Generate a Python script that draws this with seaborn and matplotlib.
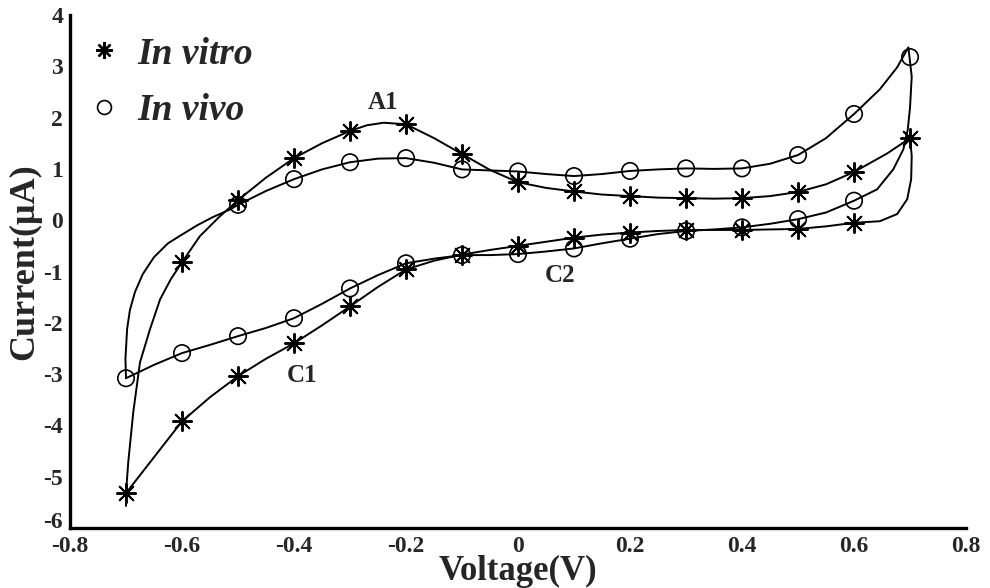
import matplotlib
matplotlib.use("Agg")
import matplotlib.pyplot as plt
from matplotlib.lines import Line2D
import seaborn as sns
import pandas as pd

# Cyclic voltammogram traces (voltage in V, current in uA), forward scan then reverse scan
vitro_trace_v = [-0.700, -0.700, -0.696, -0.687, -0.675, -0.657, -0.639, -0.620, -0.600, -0.568,
                 -0.532, -0.500, -0.450, -0.400, -0.350, -0.300, -0.270, -0.240, -0.200, -0.150,
                 -0.100, -0.050, 0.000, 0.050, 0.100, 0.150, 0.200, 0.250, 0.300, 0.350,
                 0.400, 0.450, 0.500, 0.550, 0.600, 0.659, 0.700,
                 0.703, 0.702, 0.695, 0.677, 0.646, 0.600, 0.550, 0.500, 0.450,
                 0.400, 0.350, 0.300, 0.250, 0.200, 0.150, 0.100, 0.050, 0.000, -0.050,
                 -0.100, -0.150, -0.200, -0.250, -0.300, -0.350, -0.400, -0.450, -0.500, -0.550,
                 -0.600, -0.650, -0.700]
vitro_trace_i = [-5.57, -5.32, -4.72, -3.74, -2.77, -2.12, -1.54, -1.15, -0.82, -0.31,
                 0.08, 0.39, 0.83, 1.21, 1.50, 1.74, 1.85, 1.90, 1.87, 1.60,
                 1.29, 0.98, 0.74, 0.63, 0.56, 0.50, 0.47, 0.44, 0.43, 0.42,
                 0.43, 0.47, 0.55, 0.70, 0.94, 1.30, 1.60,
                 1.25, 0.80, 0.41, 0.12, -0.02, -0.05, -0.12, -0.17, -0.18,
                 -0.19, -0.19, -0.19, -0.21, -0.24, -0.28, -0.34, -0.42, -0.50, -0.58,
                 -0.67, -0.79, -0.96, -1.30, -1.68, -2.05, -2.40, -2.70, -3.04, -3.45,
                 -3.92, -4.62, -5.32]

vivo_trace_v = [-0.700, -0.701, -0.698, -0.693, -0.684, -0.670, -0.650, -0.625, -0.600, -0.573,
                -0.545, -0.514, -0.500, -0.450, -0.400, -0.350, -0.300, -0.250, -0.200, -0.150,
                -0.100, -0.050, 0.000, 0.050, 0.100, 0.150, 0.200, 0.250, 0.300, 0.350,
                0.400, 0.450, 0.500, 0.550, 0.600, 0.646, 0.677, 0.697,
                0.703, 0.700, 0.696, 0.688, 0.670, 0.641, 0.600, 0.550, 0.500, 0.450,
                0.400, 0.350, 0.300, 0.250, 0.200, 0.150, 0.100, 0.050, 0.000, -0.050,
                -0.100, -0.150, -0.200, -0.250, -0.300, -0.350, -0.400, -0.450, -0.500, -0.550,
                -0.600, -0.650, -0.700]
vivo_trace_i = [-3.08, -2.70, -2.12, -1.75, -1.40, -1.05, -0.72, -0.45, -0.28, -0.10,
                0.06, 0.21, 0.30, 0.57, 0.80, 0.99, 1.13, 1.20, 1.21, 1.12,
                0.99, 0.97, 0.95, 0.90, 0.86, 0.90, 0.96, 0.99, 1.01, 1.00,
                1.01, 1.10, 1.27, 1.60, 2.07, 2.55, 2.98, 3.37,
                2.80, 2.20, 1.77, 1.38, 0.99, 0.60, 0.38, 0.15, 0.02, -0.07,
                -0.14, -0.18, -0.21, -0.27, -0.36, -0.45, -0.55, -0.61, -0.66, -0.68,
                -0.68, -0.75, -0.84, -1.07, -1.33, -1.63, -1.91, -2.10, -2.26, -2.43,
                -2.59, -2.82, -3.08]

# Marked sample points every 0.1 V
vitro_marker_v = [-0.6, -0.5, -0.4, -0.3, -0.2, -0.1, 0.0, 0.1, 0.2, 0.3, 0.4, 0.5, 0.6, 0.7,
                  0.6, 0.5, 0.4, 0.3, 0.2, 0.1, 0.0, -0.1, -0.2, -0.3, -0.4, -0.5, -0.6, -0.7]
vitro_marker_i = [-0.82, 0.39, 1.21, 1.74, 1.87, 1.29, 0.74, 0.56, 0.47, 0.43, 0.43, 0.55, 0.94, 1.60,
                  -0.05, -0.17, -0.19, -0.19, -0.24, -0.34, -0.50, -0.67, -0.96, -1.68, -2.40, -3.04, -3.92, -5.32]

vivo_marker_v = [-0.5, -0.4, -0.3, -0.2, -0.1, 0.0, 0.1, 0.2, 0.3, 0.4, 0.5, 0.6, 0.7,
                 0.6, 0.5, 0.4, 0.3, 0.2, 0.1, 0.0, -0.1, -0.2, -0.3, -0.4, -0.5, -0.6, -0.7]
vivo_marker_i = [0.30, 0.80, 1.13, 1.21, 0.99, 0.95, 0.86, 0.96, 1.01, 1.01, 1.27, 2.07, 3.18,
                 0.38, 0.02, -0.14, -0.21, -0.36, -0.55, -0.66, -0.68, -0.84, -1.33, -1.91, -2.26, -2.59, -3.08]

series_labels = ["In vitro", "In vivo"]
x_ticks = [-0.8, -0.6, -0.4, -0.2, 0, 0.2, 0.4, 0.6, 0.8]
x_tick_labels = ["-0.8", "-0.6", "-0.4", "-0.2", "0", "0.2", "0.4", "0.6", "0.8"]
y_ticks = [-6, -5, -4, -3, -2, -1, 0, 1, 2, 3, 4]
y_tick_labels = ["-6", "-5", "-4", "-3", "-2", "-1", "0", "1", "2", "3", "4"]
peak_labels = ["A1", "C1", "C2"]
peak_pos_v = [-0.241, -0.386, 0.075]
peak_pos_i = [2.30, -3.02, -1.08]

sns.set_style("white")
plt.rcParams["font.family"] = ["Liberation Serif", "DejaVu Serif"]
plt.rcParams["font.weight"] = "bold"
plt.rcParams["axes.unicode_minus"] = False

fig = plt.figure(figsize=(9.9, 5.88), dpi=100)
ax = fig.add_axes([0.0707, 0.102, 0.9051, 0.8725])

asterisk = (8, 2, 0)

trace_vitro = pd.DataFrame({"v": vitro_trace_v, "i": vitro_trace_i})
trace_vivo = pd.DataFrame({"v": vivo_trace_v, "i": vivo_trace_i})
sns.lineplot(data=trace_vitro, x="v", y="i", sort=False, estimator=None,
             color="black", lw=1.4, ax=ax)
sns.lineplot(data=trace_vivo, x="v", y="i", sort=False, estimator=None,
             color="black", lw=1.4, ax=ax)

pts_vitro = pd.DataFrame({"v": vitro_marker_v, "i": vitro_marker_i})
pts_vivo = pd.DataFrame({"v": vivo_marker_v, "i": vivo_marker_i})
sns.scatterplot(data=pts_vitro, x="v", y="i", marker=asterisk, s=190,
                color="black", edgecolor="black", linewidth=1.4, ax=ax, zorder=3)
sns.scatterplot(data=pts_vivo, x="v", y="i", marker="o", s=140,
                facecolor="none", edgecolor="black", linewidth=1.2, ax=ax, zorder=3)

for lab, pv, pi in zip(peak_labels, peak_pos_v, peak_pos_i):
    ax.text(pv, pi, lab, fontsize=18, fontweight="bold", ha="center", va="center")

ax.set_xlim(-0.8, 0.8)
ax.set_ylim(-6, 4)
ax.set_xticks(x_ticks)
ax.set_xticklabels(x_tick_labels)
ax.set_yticks(y_ticks)
ax.set_yticklabels(y_tick_labels)
ax.tick_params(direction="in", length=6, width=2.0, labelsize=17)
ax.tick_params(axis="x", pad=6)
ax.tick_params(axis="y", pad=5)
for t in ax.get_xticklabels() + ax.get_yticklabels():
    t.set_fontweight("bold")
# lowest y label sits on its tick so it clears the corner x label
ax.get_yticklabels()[0].set_va("baseline")

for side in ["top", "right"]:
    ax.spines[side].set_visible(False)
for side in ["left", "bottom"]:
    ax.spines[side].set_linewidth(2.4)
    ax.spines[side].set_color("black")

ax.set_xlabel("Voltage(V)", fontsize=25, fontweight="bold")
ax.set_ylabel("Current(μA)", fontsize=26, fontweight="bold")
ax.xaxis.set_label_coords(0.5, -0.084)
ax.xaxis.label.set_va("center")
ax.yaxis.set_label_coords(-0.050, 0.52)
ax.yaxis.label.set_va("center")

handles = [
    Line2D([], [], linestyle="none", marker=asterisk, markersize=12,
           markeredgecolor="black", markeredgewidth=1.7, color="black"),
    Line2D([], [], linestyle="none", marker="o", markersize=10,
           markerfacecolor="none", markeredgecolor="black", markeredgewidth=1.2),
]
ax.legend(handles, series_labels, loc="upper left", bbox_to_anchor=(0.019, 0.958),
          frameon=False, borderaxespad=0, borderpad=0, handlelength=0.9,
          handletextpad=0.45, labelspacing=0.58,
          prop={"family": "Liberation Serif", "weight": "bold", "style": "italic", "size": 27})

fig.savefig("out.png", dpi=100)
